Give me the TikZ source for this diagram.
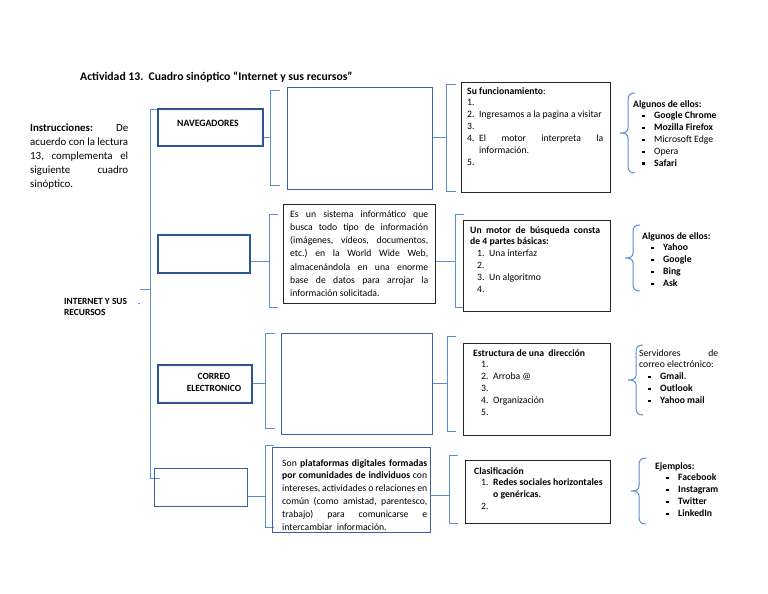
\documentclass[tikz,border=0pt]{standalone}
\usepackage{fontspec}
\setmainfont{Carlito}
\definecolor{brkc}{HTML}{5B8FD0}
\definecolor{dblue}{HTML}{2F5496}
\definecolor{mblue}{HTML}{3A62A8}
\newcommand\fbody{\fontsize{9.7}{11.9}\selectfont}
\newcommand\finst{\fontsize{10.9}{14}\selectfont}
\newcommand\ftitle{\fontsize{11.7}{14}\selectfont\bfseries}
\newcommand\num[1]{\makebox[12pt][l]{#1}}
\newcommand\bul{\makebox[12pt][l]{\rule[1.5pt]{2.6pt}{2.6pt}}}
\newcommand\js[1]{\makebox[\hsize][s]{#1}}
\newcommand\curlyL[4]{%
 \draw[brk] ({#1+7},#2) .. controls ({#1+2},#2) and (#1,{#2+2}) .. (#1,{#2+7})
   -- (#1,{#3-5}) .. controls (#1,{#3-1}) and ({#1-3},#3) .. ({#1-8},#3)
   .. controls ({#1-3},#3) and (#1,{#3+1}) .. (#1,{#3+5})
   -- (#1,{#4-7}) .. controls (#1,{#4-2}) and ({#1+2},#4) .. ({#1+7},#4);}
\begin{document}
\begin{tikzpicture}[x=1pt,y=-1pt,
  brk/.style={draw=brkc,line width=1pt},
  catbox/.style={draw=dblue,line width=1.5pt,anchor=north west,inner sep=0pt},
  thinbox/.style={draw=mblue,line width=1pt,anchor=north west,inner sep=0pt},
  blkbox/.style={draw=black!85,line width=1.3pt,anchor=north west,inner sep=0pt},
  txt/.style={anchor=base west,inner sep=0pt,align=left,text width=#1,font=\fbody,
    execute at begin node={\spaceskip=0pt\xspaceskip=0pt\frenchspacing\relax}},
  lbl/.style={inner sep=0pt,align=center,font=\fbody\bfseries}]
\useasboundingbox (0,0) rectangle (768,594);
\fill[white] (0,0) rectangle (768,594);

% title and instructions
\node[anchor=base west,inner sep=0pt,font=\ftitle] (title) at (80,81)
  {Actividad 13.\ \ Cuadro sinóptico “Internet y sus recursos”};
\node[txt=98,font=\finst] (inst) at (30,131)
  {\js{\textbf{Instrucciones:} De}\\
   \js{acuerdo con la lectura}\\
   \js{13, complementa el}\\
   \js{siguiente cuadro}\\
   sinóptico.};

% root
\node[txt=80,font=\fontsize{9.4}{11.9}\selectfont\bfseries] (root) at (64,304) {INTERNET Y SUS\\RECURSOS};
\fill[brkc] (138,302.5) rectangle (140,304);
\coordinate (mtop) at (150,109);
\coordinate (mbot) at (150,478);
\coordinate (mmid) at (150,289);
\draw[brk] (160,109) -- (mtop) -- (mbot) -- (160,478);
\draw[brk] (140,289) -- (mmid);

% ---------- row 1
\node[catbox,minimum width=105,minimum height=37] (nav) at (157,108) {};
\node[lbl] (navt) at (208,123) {NAVEGADORES};
\coordinate (b1) at (270,137);
\draw[brk] (nav.east |- b1) -- (b1);
\draw[brk] (280,90) -- (270,90) -- (270,185) -- (280,185);
\node[thinbox,minimum width=145,minimum height=102] (e1) at (287,87) {};
\coordinate (c1) at (446,137);
\draw[brk] (e1.east |- c1) -- (c1);
\draw[brk] (456,84) -- (446,84) -- (446,191) -- (456,191);
\node[blkbox,minimum width=149,minimum height=110] (f1) at (461,82) {};
\node[txt=136] (f1t) at (467,94)
  {\textbf{Su funcionamiento}:\\
   \num{1.}\\
   \num{2.}Ingresamos a la pagina a visitar\\
   \num{3.}\\
   \num{4.}\makebox[\dimexpr\hsize-12pt][s]{El motor interpreta la}\\
   \hspace*{12pt}información.\\
   \num{5.}};
\curlyL{628}{93}{133}{173}
\node[txt=120] (g1) at (633,107)
  {\textbf{Algunos de ellos:}\\
   \hspace*{9pt}\bul\textbf{Google Chrome}\\
   \hspace*{9pt}\bul\textbf{Mozilla Firefox}\\
   \hspace*{9pt}\bul Microsoft Edge\\
   \hspace*{9pt}\bul Opera\\
   \hspace*{9pt}\bul\textbf{Safari}};

% ---------- row 2
\node[catbox,minimum width=92,minimum height=38] (bus) at (157,234) {};
\coordinate (b2) at (269,261);
\draw[brk] (bus.east |- b2) -- (b2);
\draw[brk] (278,214) -- (269,214) -- (269,307) -- (278,307);
\node[blkbox,minimum width=152,minimum height=99] (e2) at (283,204) {};
\node[txt=138,font=\fontsize{9.7}{13.3}\selectfont] (e2t) at (290,217)
  {\js{Es un sistema informático que}\\
   \js{busca todo tipo de información}\\
   \js{(imágenes, vídeos, documentos,}\\
   \js{etc.) en la World Wide Web,}\\
   \js{almacenándola en una enorme}\\
   \js{base de datos para arrojar la}\\
   información solicitada.};
\coordinate (c2) at (455,261);
\draw[brk] (e2.east |- c2) -- (c2);
\draw[brk] (464,214) -- (455,214) -- (455,307) -- (464,307);
\node[blkbox,minimum width=147,minimum height=91] (f2) at (463,220) {};
\node[txt=130] (f2t) at (470,233)
  {\js{\textbf{Un motor de búsqueda consta}}\\
   \textbf{de 4 partes básicas:}\\
   \hspace*{7pt}\num{1.}Una interfaz\\
   \hspace*{7pt}\num{2.}\\
   \hspace*{7pt}\num{3.}Un algoritmo\\
   \hspace*{7pt}\num{4.}};
\curlyL{633}{225}{258}{291}
\node[txt=110] (g2) at (642,239)
  {\textbf{Algunos de ellos:}\\
   \hspace*{9pt}\bul\textbf{Yahoo}\\
   \hspace*{9pt}\bul\textbf{Google}\\
   \hspace*{9pt}\bul\textbf{Bing}\\
   \hspace*{9pt}\bul\textbf{Ask}};

% ---------- row 3
\node[catbox,minimum width=94,minimum height=38] (cor) at (157,364) {};
\node[lbl,font=\fontsize{9.4}{11.9}\selectfont\bfseries] (cort) at (214,382) {CORREO\\ELECTRONICO};
\coordinate (b3) at (265,383);
\draw[brk] (cor.east |- b3) -- (b3);
\draw[brk] (275,333) -- (265,333) -- (265,428) -- (275,428);
\node[thinbox,minimum width=151,minimum height=101] (e3) at (281,333) {};
\coordinate (c3) at (447,383);
\draw[brk] (e3.east |- c3) -- (c3);
\draw[brk] (456,336) -- (447,336) -- (447,431) -- (456,431);
\node[blkbox,minimum width=147,minimum height=92] (f3) at (463,343) {};
\node[txt=135] (f3t) at (473,356)
  {\textbf{Estructura de una\ \ dirección}\\
   \hspace*{8pt}\num{1.}\\
   \hspace*{8pt}\num{2.}Arroba @\\
   \hspace*{8pt}\num{3.}\\
   \hspace*{8pt}\num{4.}Organización\\
   \hspace*{8pt}\num{5.}};
\curlyL{636}{345}{380}{415}
\node[txt=79] (g3) at (639,356)
  {\js{Servidores de}\\
   correo electrónico:\\
   \hspace*{9pt}\bul\textbf{Gmail.}\\
   \hspace*{9pt}\bul\textbf{Outlook}\\
   \hspace*{9pt}\bul\textbf{Yahoo mail}};

% ---------- row 4
\node[thinbox,minimum width=93,minimum height=38] (red) at (154,468) {};
\coordinate (b4) at (265,496);
\draw[brk] (red.east |- b4) -- (b4);
\draw[brk] (274,445) -- (265,445) -- (265,527) -- (274,527);
\node[thinbox,minimum width=158,minimum height=85] (e4) at (272,447) {};
\node[txt=145,font=\fontsize{9.7}{12.8}\selectfont] (e4t) at (282,466)
  {\js{Son \textbf{plataformas digitales formadas}}\\
   \js{\textbf{por comunidades de individuos} con}\\
   \js{intereses, actividades o relaciones en}\\
   \js{común (como amistad, parentesco,}\\
   \js{trabajo) para comunicarse e}\\
   intercambiar\ \ información.};
\coordinate (c4) at (449,495);
\draw[brk] (e4.east |- c4) -- (c4);
\draw[brk] (458,455) -- (449,455) -- (449,523) -- (458,523);
\node[blkbox,minimum width=145,minimum height=63] (f4) at (465,460) {};
\node[txt=130] (f4t) at (474,474)
  {\textbf{Clasificación}\\
   \hspace*{7pt}\num{1.}\textbf{Redes sociales horizontales}\\
   \hspace*{19pt}\textbf{o genéricas.}\\
   \hspace*{7pt}\num{2.}};
\curlyL{639}{458}{491}{524}
\node[txt=100] (g4) at (655,469)
  {\textbf{Ejemplos:}\\
   \hspace*{11pt}\bul\textbf{Facebook}\\
   \hspace*{11pt}\bul\textbf{Instagram}\\
   \hspace*{11pt}\bul\textbf{Twitter}\\
   \hspace*{11pt}\bul\textbf{LinkedIn}};
\end{tikzpicture}
\end{document}
